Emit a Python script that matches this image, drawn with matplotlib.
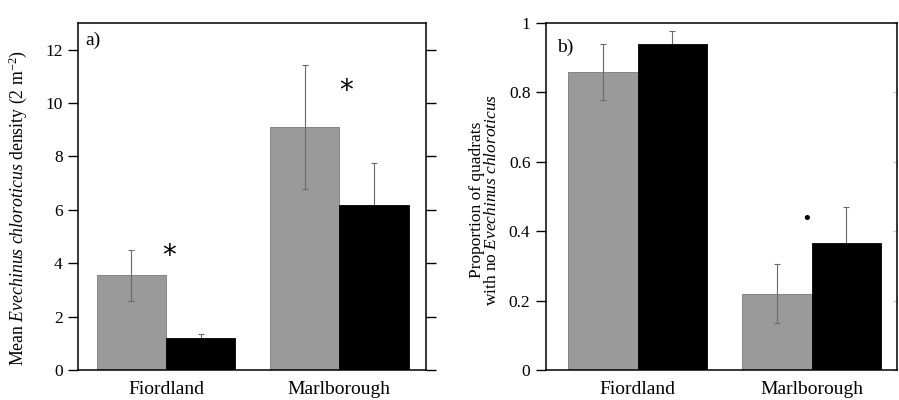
import matplotlib
matplotlib.use('Agg')
import matplotlib.pyplot as plt
import numpy as np

plt.rcParams['font.family'] = ['Liberation Serif', 'DejaVu Serif']
plt.rcParams['mathtext.fontset'] = 'custom'
plt.rcParams['mathtext.rm'] = 'Liberation Serif'
plt.rcParams['mathtext.it'] = 'Liberation Serif:italic'

sites = ['Fiordland', 'Marlborough']

# panel a) mean density
dens_gray = [3.54, 9.08]
dens_gray_lo = [2.60, 6.77]
dens_gray_hi = [4.49, 11.43]
dens_black = [1.20, 6.18]
dens_black_lo = [1.04, 4.61]
dens_black_hi = [1.36, 7.75]

# panel b) proportion of empty quadrats
prop_gray = [0.859, 0.220]
prop_gray_lo = [0.779, 0.134]
prop_gray_hi = [0.938, 0.305]
prop_black = [0.940, 0.366]
prop_black_lo = [0.905, 0.262]
prop_black_hi = [0.975, 0.470]

# significance marks: (x, y, text)
marks_a = [(0.02, 4.25, '*'), (1.04, 10.45, '*')]
marks_b = [(0.97, 0.435, '•')]

GRAY = '#9a9a9a'
ERR = '#6a6a6a'
W = 0.4
XFS = 14
YFS = 12.5
LFS = 12.8

fig = plt.figure(figsize=(8.99, 4.0), dpi=100)
ax1 = fig.add_axes([0.0868, 0.075, 0.3871, 0.868])
ax2 = fig.add_axes([0.607, 0.075, 0.3904, 0.868])


def panel(ax, g, glo, ghi, b, blo, bhi):
    x = np.arange(len(sites))
    ax.bar(x - W / 2, g, W, color=GRAY, edgecolor='#7a7a7a', lw=0.6, zorder=1)
    yerr_g = [np.array(g) - np.array(glo), np.array(ghi) - np.array(g)]
    yerr_b = [np.array(b) - np.array(blo), np.array(bhi) - np.array(b)]
    ax.errorbar(x - W / 2, g, yerr=yerr_g, fmt='none', ecolor=ERR,
                elinewidth=0.8, capsize=2.5, capthick=0.8, zorder=2)
    ax.errorbar(x + W / 2, b, yerr=yerr_b, fmt='none', ecolor=ERR,
                elinewidth=0.8, capsize=2.5, capthick=0.8, zorder=2)
    ax.bar(x + W / 2, b, W, color='black', edgecolor='black', lw=0.6, zorder=3)
    ax.set_xticks(x)
    ax.set_xticklabels(sites, fontsize=XFS)
    ax.tick_params(axis='x', length=0, pad=8)
    ax.tick_params(axis='y', which='both', direction='out', length=7, width=1,
                   labelsize=YFS, pad=4)
    for s in ax.spines.values():
        s.set_linewidth(1.1)


panel(ax1, dens_gray, dens_gray_lo, dens_gray_hi, dens_black, dens_black_lo, dens_black_hi)
ax1.set_xlim(-0.507, 1.5)
ax1.set_ylim(0, 13)
ax1.set_yticks(np.arange(0, 13, 2))
ax1.tick_params(axis='y', right=True)
ax1.set_ylabel(r'Mean $\mathit{Evechinus\ chloroticus}$ density (2 m$^{-2}$)',
               fontsize=LFS)
ax1.yaxis.set_label_coords(-0.14, 0.468)
ax1.text(0.022, 0.975, 'a)', transform=ax1.transAxes, fontsize=XFS, va='top')
for mx, my, mt in marks_a:
    ax1.text(mx, my, mt, fontsize=20, ha='center', va='center',
             family='DejaVu Sans')

panel(ax2, prop_gray, prop_gray_lo, prop_gray_hi, prop_black, prop_black_lo, prop_black_hi)
ax2.set_xlim(-0.529, 1.489)
ax2.set_ylim(0, 1)
ax2.set_yticks([0, 0.2, 0.4, 0.6, 0.8, 1.0])
ax2.set_yticklabels(['0', '0.2', '0.4', '0.6', '0.8', '1'])
ax2.yaxis.set_tick_params(which='major', right=True)
for t in ax2.yaxis.get_major_ticks():
    t.tick2line.set_marker(0)
    t.tick2line.set_markersize(3)
    t.tick2line.set_markeredgecolor('#c8c8c8')
ax2.set_ylabel('Proportion of quadrats\nwith no $\\mathit{Evechinus\\ chloroticus}$',
               fontsize=12.5, linespacing=0.95)
ax2.yaxis.set_label_coords(-0.13, 0.49)
ax2.text(0.032, 0.955, 'b)', transform=ax2.transAxes, fontsize=XFS, va='top')
for mx, my, mt in marks_b:
    ax2.text(mx, my, mt, fontsize=13, ha='center', va='center',
             family='DejaVu Sans')

fig.savefig('out.png', dpi=100)
